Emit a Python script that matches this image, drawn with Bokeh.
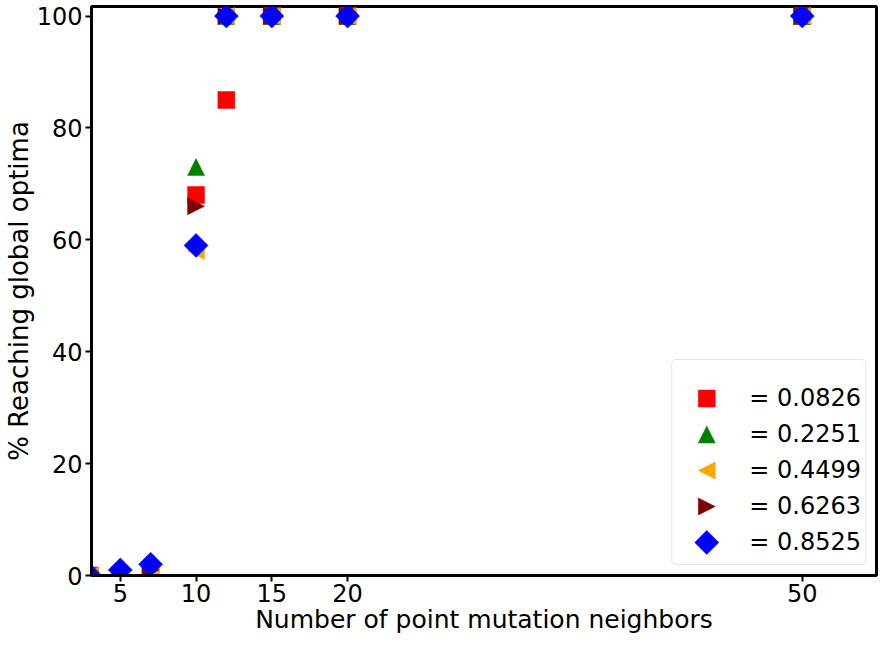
from bokeh.plotting import figure
from bokeh.models import Legend, LegendItem, FixedTicker, Range1d, CustomJS
from bokeh.embed import file_html
from bokeh.resources import INLINE

neighbors = [3, 5, 7, 10, 12, 15, 20, 50]
rho_labels = ["= 0.0826", "= 0.2251", "= 0.4499", "= 0.6263", "= 0.8525"]
pct_0826 = [0, 0, 1, 68, 85, 100, 100, 100]
pct_2251 = [0, 0, 1, 73, 100, 100, 100, 100]
pct_4499 = [0, 0, 1, 58, 100, 100, 100, 100]
pct_6263 = [0, 0, 1, 66, 100, 100, 100, 100]
pct_8525 = [0, 1, 2, 59, 100, 100, 100, 100]
x_ticks = [5, 10, 15, 20, 50]
y_ticks = [0, 20, 40, 60, 80, 100]

FONT = "DejaVu Sans"
MARKER_SIZE = 14.4


def marker_js(path_js):
    code = """
const D = (typeof cb_data !== "undefined" && cb_data) ? cb_data : arguments[arguments.length - 2];
const ctx = D.ctx, i = D.i, r = D.r, visuals = D.visuals;
%s
ctx.closePath();
visuals.fill.apply(ctx, i);
visuals.line.apply(ctx, i);
""" % path_js
    return CustomJS(code=code)


defs = {
    "@sq": marker_js("const k = 1.18*r; ctx.moveTo(-k,-k); ctx.lineTo(k,-k); ctx.lineTo(k,k); ctx.lineTo(-k,k);"),
    "@up": marker_js("const k = 1.18*r; ctx.moveTo(0,-k); ctx.lineTo(k,k); ctx.lineTo(-k,k);"),
    "@left": marker_js("const k = 1.18*r; ctx.moveTo(-k,0); ctx.lineTo(k,-k); ctx.lineTo(k,k);"),
    "@right": marker_js("const k = 1.18*r; ctx.moveTo(k,0); ctx.lineTo(-k,-k); ctx.lineTo(-k,k);"),
    "@dia": marker_js("const k = 1.67*r; ctx.moveTo(0,-k); ctx.lineTo(k,0); ctx.lineTo(0,k); ctx.lineTo(-k,0);"),
}

p = figure(width=880, height=636, output_backend="svg", toolbar_location=None,
           x_range=Range1d(3.1, 54.9), y_range=Range1d(0, 101.7),
           min_border_left=76, min_border_right=4, min_border_top=6, min_border_bottom=0)
p.xgrid.visible = False
p.ygrid.visible = False
p.outline_line_color = "black"
p.outline_line_width = 3
p.background_fill_color = "white"
p.border_fill_color = "white"

for ax in (p.xaxis, p.yaxis):
    ax.axis_line_width = 3
    ax.axis_line_color = "black"
    ax.major_tick_line_width = 2
    ax.major_tick_out = 6
    ax.major_tick_in = 0
    ax.minor_tick_line_color = None
    ax.major_label_text_font = FONT
    ax.major_label_text_font_size = "24px"
    ax.major_label_text_color = "black"
    ax.axis_label_text_font = FONT
    ax.axis_label_text_font_style = "normal"
    ax.axis_label_text_color = "black"

p.xaxis.axis_label_text_font_size = "25px"
p.yaxis.axis_label_text_font_size = "26px"
p.xaxis.ticker = FixedTicker(ticks=x_ticks)
p.yaxis.ticker = FixedTicker(ticks=y_ticks)
p.xaxis.axis_label = "Number of point mutation neighbors"
p.yaxis.axis_label = "% Reaching global optima"
p.xaxis.major_label_standoff = 2
p.yaxis.major_label_standoff = 3
p.xaxis.axis_label_standoff = 0
p.yaxis.axis_label_standoff = 0

series = [
    (pct_0826, "@sq", "red"),
    (pct_2251, "@up", "green"),
    (pct_4499, "@left", "orange"),
    (pct_6263, "@right", "maroon"),
    (pct_8525, "@dia", "blue"),
]
renderers = []
for vals, mk, col in series:
    r = p.scatter(neighbors, vals, marker=mk, defs=defs, size=MARKER_SIZE,
                  fill_color=col, line_color=col, line_width=0.5)
    renderers.append(r)

items = [LegendItem(label=lab, renderers=[r]) for lab, r in zip(rho_labels, renderers)]
legend = Legend(items=items, location="bottom_right", title="\u00a0",
                title_text_font_size="12px", title_text_font=FONT, title_standoff=2,
                label_text_font=FONT, label_text_font_size="24px", label_text_color="black",
                label_standoff=13, glyph_width=60, glyph_height=36,
                spacing=0, padding=4, margin=10,
                border_line_color="#cccccc", border_line_width=1.5,
                background_fill_color="white", background_fill_alpha=1)
if "border_radius" in Legend.properties():
    legend.border_radius = 5
p.add_layout(legend)

open("out.html", "w").write(file_html(p, INLINE))
